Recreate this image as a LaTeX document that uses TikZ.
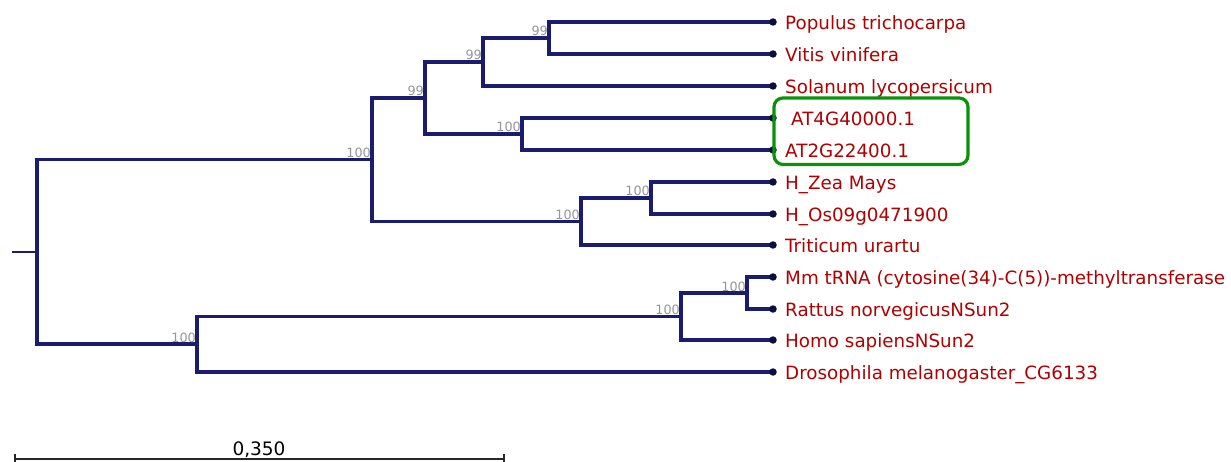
\documentclass[tikz,border=0pt]{standalone}
\usepackage{fontspec}
\setmainfont{DejaVu Sans}
\definecolor{branch}{RGB}{27,27,112}
\definecolor{tipdot}{RGB}{12,14,60}
\definecolor{leafred}{RGB}{176,0,0}
\definecolor{boot}{RGB}{150,150,150}
\definecolor{boxgreen}{RGB}{10,145,10}
\begin{document}
\begin{tikzpicture}[x=1pt,y=-1pt,
  br/.style={draw=branch,line width=3.3pt,line cap=rect},
  tip/.style={circle,fill=tipdot,inner sep=0pt,minimum size=7.5pt},
  lab/.style={anchor=base west,inner sep=0pt,text=leafred,font=\fontsize{18.3}{20}\selectfont},
  bs/.style={anchor=base east,inner sep=0pt,text=boot,font=\fontsize{12.8}{14}\selectfont}]
\useasboundingbox (0,0) rectangle (1231,462);

% leaf tips
\foreach \n/\y in {1/22,2/54,3/86,4/118,5/150,6/182,7/214,8/245,9/277,10/309,11/340,12/372}
  \coordinate (L\n) at (773,\y);

% internal nodes
\coordinate (pv)    at (549,38);
\coordinate (pvs)   at (483,62);
\coordinate (at)    at (522,134);
\coordinate (eud)   at (425,98);
\coordinate (zo)    at (651,198);
\coordinate (mono)  at (581,221.5);
\coordinate (plant) at (372,159.75);
\coordinate (mr)    at (747,293);
\coordinate (mam)   at (681,316.5);
\coordinate (anim)  at (197,344);
\coordinate (root)  at (37,251.9);
\coordinate (stub)  at (12,251.9);

% branches
\draw[br] (pv) |- (L1);   \draw[br] (pv) |- (L2);
\draw[br] (pvs) |- (pv);  \draw[br] (pvs) |- (L3);
\draw[br] (at) |- (L4);   \draw[br] (at) |- (L5);
\draw[br] (eud) |- (pvs); \draw[br] (eud) |- (at);
\draw[br] (zo) |- (L6);   \draw[br] (zo) |- (L7);
\draw[br] (mono) |- (zo); \draw[br] (mono) |- (L8);
\draw[br] (plant) |- (eud); \draw[br] (plant) |- (mono);
\draw[br] (mr) |- (L9);   \draw[br] (mr) |- (L10);
\draw[br] (mam) |- (mr);  \draw[br] (mam) |- (L11);
\draw[br] (anim) |- (mam); \draw[br] (anim) |- (L12);
\draw[br] (root) |- (plant); \draw[br] (root) |- (anim);
\draw[draw=branch,line width=1.6pt] (stub) -- (root);

% tip dots
\foreach \n in {1,...,12} \node[tip] (d\n) at (L\n) {};

% leaf labels
\node[lab] (t1)  at (785,29.5)  {Populus trichocarpa};
\node[lab] (t2)  at (785,61.5)  {Vitis vinifera};
\node[lab] (t3)  at (785,93.5)  {Solanum lycopersicum};
\node[lab] (t4)  at (791,125.5) {AT4G40000.1};
\node[lab] (t5)  at (785,157.5) {AT2G22400.1};
\node[lab] (t6)  at (785,189.5) {H\_Zea Mays};
\node[lab] (t7)  at (785,221.5) {H\_Os09g0471900};
\node[lab] (t8)  at (785,252.5) {Triticum urartu};
\node[lab] (t9)  at (785,284.5) {Mm tRNA (cytosine(34)-C(5))-methyltransferase};
\node[lab] (t10) at (785,316.5) {Rattus norvegicusNSun2};
\node[lab] (t11) at (785,347.5) {Homo sapiensNSun2};
\node[lab] (t12) at (785,379.5) {Drosophila melanogaster\_CG6133};

% highlight box
\node[draw=boxgreen,line width=3.2pt,rounded corners=9pt,minimum width=194pt,minimum height=66.5pt,inner sep=0pt] (hl) at (871,131.2) {};

% bootstrap values
\node[bs] (b1)  at ([xshift=-1pt,yshift=2pt]pv)    {99};
\node[bs] (b2)  at ([xshift=-1pt,yshift=2pt]pvs)   {99};
\node[bs] (b3)  at ([xshift=-1pt,yshift=2pt]eud)   {99};
\node[bs] (b4)  at ([xshift=-1pt,yshift=2pt]at)    {100};
\node[bs] (b5)  at ([xshift=-1pt,yshift=2pt]plant) {100};
\node[bs] (b6)  at ([xshift=-1pt,yshift=2pt]zo)    {100};
\node[bs] (b7)  at ([xshift=-1pt,yshift=2pt]mono)  {100};
\node[bs] (b8)  at ([xshift=-1pt,yshift=2pt]mr)    {100};
\node[bs] (b9)  at ([xshift=-1pt,yshift=2pt]mam)   {100};
\node[bs] (b10) at ([xshift=-1pt,yshift=2pt]anim)  {100};

% scale bar
\coordinate (s0) at (15,459);
\coordinate (s1) at (504,459);
\draw[line width=1.4pt,black!85] (s0) -- (s1);
\draw[line width=1.4pt,black!85] ([yshift=5pt]s0) -- ([yshift=-4pt]s0);
\draw[line width=1.4pt,black!85] ([yshift=5pt]s1) -- ([yshift=-4pt]s1);
\node[anchor=base,inner sep=0pt,font=\fontsize{18.5}{20}\selectfont] (sl) at (259,455) {0,350};
\end{tikzpicture}
\end{document}
